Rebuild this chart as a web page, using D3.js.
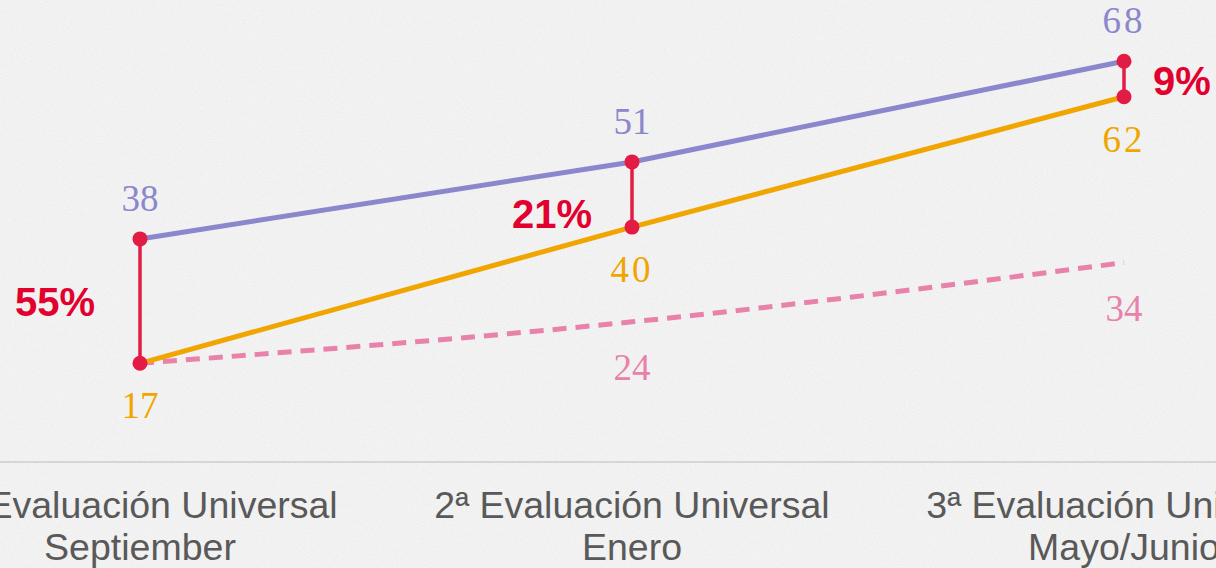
<!DOCTYPE html>
<html>
<head>
<meta charset="utf-8">
<script src="https://cdn.jsdelivr.net/npm/d3@7/dist/d3.min.js"></script>
<style>
  html, body { margin: 0; padding: 0; background: #f2f2f2; overflow: hidden; }
  svg { display: block; }
</style>
</head>
<body>
<svg id="chart" width="1216" height="568"></svg>
<script>
// ---- data ----
const categories = ["1ª Evaluación Universal", "2ª Evaluación Universal", "3ª Evaluación Universal"];
const periods = ["Septiember", "Enero", "Mayo/Junio"];
const seriesPurple = [38, 51, 68];
const seriesOrange = [17, 40, 62];
const seriesPink = [17, 24, 34];
const pinkLabelShown = [false, true, true];
const gapLabels = ["55%", "21%", "9%"];

// ---- layout ----
const W = 1216, H = 568;
const svg = d3.select("#chart");

// background with subtle paper texture
const defs = svg.append("defs");
const f = defs.append("filter").attr("id", "noise").attr("x", 0).attr("y", 0).attr("width", "100%").attr("height", "100%");
f.append("feTurbulence").attr("type", "fractalNoise").attr("baseFrequency", 0.9).attr("numOctaves", 2).attr("seed", 3).attr("result", "t");
f.append("feColorMatrix").attr("type", "matrix")
  .attr("values", "0 0 0 0 0  0 0 0 0 0  0 0 0 0 0  0 0 0 -1.2 0.75");
svg.append("rect").attr("width", W).attr("height", H).attr("fill", "#f3f3f3");
svg.append("rect").attr("width", W).attr("height", H).attr("fill", "#000").attr("filter", "url(#noise)").attr("opacity", 0.05);

const x = d3.scalePoint().domain(d3.range(categories.length)).range([140, 1124]);
const y = d3.scaleLinear().domain([0, 78]).range([464, 2]);

// baseline axis
const axis = d3.axisBottom(x).tickSize(0).tickFormat("");
const axG = svg.append("g").attr("transform", `translate(0,462)`).call(axis);
axG.select(".domain").remove();
axG.append("line").attr("x1", 0).attr("x2", W).attr("y1", 0).attr("y2", 0)
  .attr("stroke", "#d6d6d6").attr("stroke-width", 2);

// category labels
const catG = svg.append("g");
categories.forEach((c, i) => {
  const t = catG.append("text")
    .attr("x", x(i)).attr("y", 518)
    .attr("text-anchor", "middle")
    .attr("font-family", "'Liberation Sans', Arial, sans-serif")
    .attr("font-size", 37.5).attr("fill", "#595959");
  t.append("tspan").attr("x", x(i)).text(c);
  t.append("tspan").attr("x", x(i)).attr("dy", 42).text(periods[i]);
});

const idx = d3.range(categories.length);

// pink dashed line
svg.append("path")
  .attr("d", d3.line().x(i => x(i)).y(i => y(seriesPink[i])).curve(d3.curveMonotoneX)(idx))
  .attr("fill", "none").attr("stroke", "#e882aa").attr("stroke-width", 5)
  .attr("stroke-dasharray", "14,9");

// orange line
svg.append("path")
  .attr("d", d3.line().x(i => x(i)).y(i => y(seriesOrange[i]))(idx))
  .attr("fill", "none").attr("stroke", "#f0a500").attr("stroke-width", 5);

// purple line
svg.append("path")
  .attr("d", d3.line().x(i => x(i)).y(i => y(seriesPurple[i]))(idx))
  .attr("fill", "none").attr("stroke", "#8b87cc").attr("stroke-width", 5);

// red connectors
svg.append("g").selectAll("line").data(idx).join("line")
  .attr("x1", i => x(i)).attr("x2", i => x(i))
  .attr("y1", i => y(seriesPurple[i])).attr("y2", i => y(seriesOrange[i]))
  .attr("stroke", "#e31c45").attr("stroke-width", 3.5);

const dots = svg.append("g");
idx.forEach(i => {
  [seriesPurple[i], seriesOrange[i]].forEach(v => {
    dots.append("circle").attr("cx", x(i)).attr("cy", y(v)).attr("r", 7.5).attr("fill", "#e31c45");
  });
});

// value labels
const serif = "'Liberation Serif', 'Times New Roman', serif";
const lab = svg.append("g").attr("font-family", serif).attr("font-size", 37).attr("text-anchor", "middle");
idx.forEach(i => {
  lab.append("text").attr("x", x(i)).attr("y", y(seriesPurple[i]) - 28)
    .attr("fill", "#8b87cc").attr("letter-spacing", i === 2 ? 3 : 0).text(seriesPurple[i]);
  lab.append("text").attr("x", x(i)).attr("y", y(seriesOrange[i]) + 55)
    .attr("fill", "#f0a500").attr("letter-spacing", i > 0 ? 3 : 0).text(seriesOrange[i]);
  if (pinkLabelShown[i]) {
    lab.append("text").attr("x", x(i)).attr("y", y(seriesPink[i]) + 58)
      .attr("fill", "#e882aa").text(seriesPink[i]);
  }
});

// gap percentage labels
const gapLayout = [
  { anchor: "end", dx: -45, dy: 15 },
  { anchor: "end", dx: -40, dy: 33 },
  { anchor: "start", dx: 29, dy: 16 }
];
idx.forEach(i => {
  const mid = (y(seriesPurple[i]) + y(seriesOrange[i])) / 2;
  svg.append("text")
    .attr("x", x(i) + gapLayout[i].dx).attr("y", mid + gapLayout[i].dy)
    .attr("text-anchor", gapLayout[i].anchor)
    .attr("font-family", "'Liberation Sans', Arial, sans-serif")
    .attr("font-weight", "bold").attr("font-size", 40)
    .attr("fill", "#e2002e").text(gapLabels[i]);
});
</script>
</body>
</html>
